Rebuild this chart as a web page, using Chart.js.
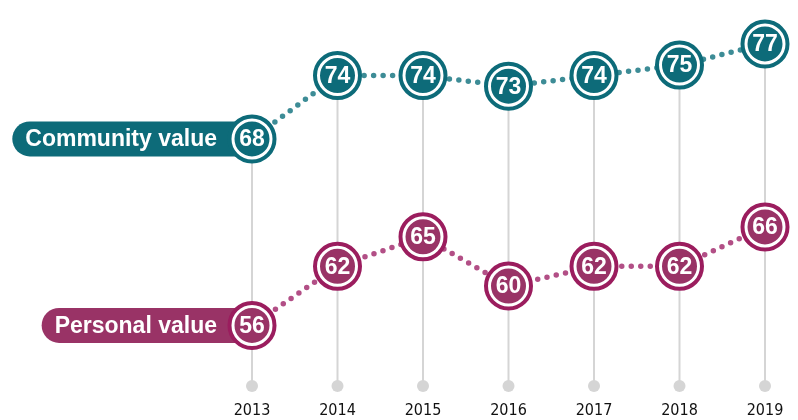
<!DOCTYPE html>
<html>
<head>
<meta charset="utf-8">
<script src="https://cdn.jsdelivr.net/npm/chart.js@4/dist/chart.umd.min.js"></script>
<style>
    html, body { margin: 0; padding: 0; background: #fff; }
</style>
</head>
<body>
<canvas id="valueChart" width="798" height="420"></canvas>
<script>
var years = ["2013", "2014", "2015", "2016", "2017", "2018", "2019"];
var communityValues = [68, 74, 74, 73, 74, 75, 77];
var personalValues = [56, 62, 65, 60, 62, 62, 66];
var seriesNames = ["Community value", "Personal value"];

var labelFont = 'bold 23px "Liberation Sans", Arial, sans-serif';
var numberFont = 'bold 23px "Liberation Sans", Arial, sans-serif';

// stems, bottom dots and the name pills go under the lines, ring + number on top
var markerPlugin = {
    id: 'markers',
    beforeDatasetsDraw: function (chart) {
        var ctx = chart.ctx;
        var area = chart.chartArea;
        var topPoints = chart.getDatasetMeta(0).data;
        ctx.save();
        topPoints.forEach(function (pt) {
            ctx.strokeStyle = '#d5d5d5';
            ctx.lineWidth = 2;
            ctx.beginPath();
            ctx.moveTo(pt.x, pt.y);
            ctx.lineTo(pt.x, area.bottom - 2);
            ctx.stroke();
            ctx.fillStyle = '#d5d5d5';
            ctx.beginPath();
            ctx.arc(pt.x, area.bottom - 2, 6, 0, Math.PI * 2);
            ctx.fill();
        });
        chart.data.datasets.forEach(function (ds, i) {
            var first = chart.getDatasetMeta(i).data[0];
            ctx.font = labelFont;
            var textRight = first.x - 35;
            var w = ctx.measureText(ds.label).width;
            var left = textRight - w - 13;
            var h = 35;
            ctx.fillStyle = ds.pillColor;
            ctx.beginPath();
            ctx.roundRect(left, first.y - h / 2, first.x - left, h, [17.5, 0, 0, 17.5]);
            ctx.fill();
            ctx.fillStyle = '#fff';
            ctx.textAlign = 'right';
            ctx.textBaseline = 'middle';
            ctx.fillText(ds.label, textRight, first.y + 1);
        });
        ctx.restore();
    },
    afterDatasetsDraw: function (chart) {
        var ctx = chart.ctx;
        ctx.save();
        chart.data.datasets.forEach(function (ds, i) {
            chart.getDatasetMeta(i).data.forEach(function (pt, j) {
                ctx.strokeStyle = '#fff';
                ctx.lineWidth = 3;
                ctx.beginPath();
                ctx.arc(pt.x, pt.y, 19, 0, Math.PI * 2);
                ctx.stroke();
                ctx.fillStyle = '#fff';
                ctx.font = numberFont;
                ctx.textAlign = 'center';
                ctx.textBaseline = 'middle';
                ctx.fillText(ds.data[j], pt.x, pt.y + 1);
            });
        });
        ctx.restore();
    }
};

function makeSeries(name, values, axis, dotColor, markColor, ringColor) {
    return {
        label: name,
        data: values,
        yAxisID: axis,
        pillColor: markColor,
        borderColor: dotColor,
        borderWidth: 5.5,
        borderDash: [0, 9.5],
        borderCapStyle: 'round',
        tension: 0,
        fill: false,
        clip: false,
        pointRadius: 22.5,
        pointBorderWidth: 4,
        pointBackgroundColor: markColor,
        pointBorderColor: ringColor,
        pointHoverRadius: 22.5
    };
}

var chart = new Chart(document.getElementById('valueChart'), {
    type: 'line',
    data: {
        labels: years,
        datasets: [
            makeSeries(seriesNames[0], communityValues, 'y', '#3d8c96', '#0d6b79', '#0d6b79'),
            makeSeries(seriesNames[1], personalValues, 'y2', '#b24f86', '#993366', '#9b1d5e')
        ]
    },
    options: {
        responsive: false,
        animation: false,
        layout: { autoPadding: false, padding: { left: 252, right: 33, top: 10, bottom: 0 } },
        plugins: {
            legend: { display: false },
            tooltip: { enabled: false }
        },
        scales: {
            x: {
                type: 'category',
                offset: false,
                grid: { display: false, drawTicks: false },
                border: { display: false },
                afterFit: function (scale) { scale.height = 32; },
                ticks: {
                    padding: 13,
                    color: '#111',
                    font: { family: '"Liberation Sans Narrow", "DejaVu Sans Condensed", sans-serif', size: 16 }
                }
            },
            y: { display: false, min: 44.39, max: 80.22 },
            y2: { display: false, min: 49.64, max: 88.05 }
        }
    },
    plugins: [markerPlugin]
});
</script>
</body>
</html>
